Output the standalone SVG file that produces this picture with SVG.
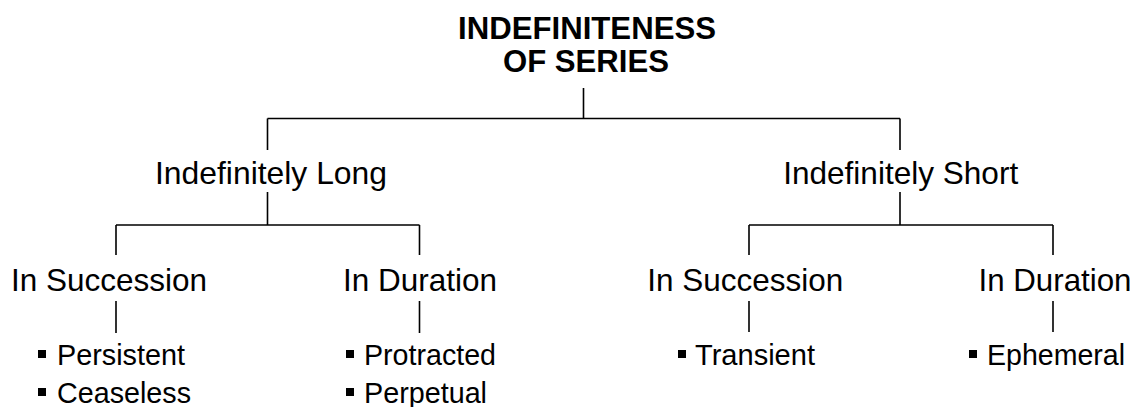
<svg xmlns="http://www.w3.org/2000/svg" width="1134" height="407" viewBox="0 0 1134 407">
<style>
.t{font-family:"Liberation Sans",Arial,sans-serif;fill:#000}
.title{font-weight:bold;font-size:31px;text-anchor:middle}
.lab{font-size:31.5px;text-anchor:middle}
.it{font-size:28.7px}
.c{stroke:#000;stroke-width:1.6;fill:none}
.b{fill:#000}
</style>
<rect width="1134" height="407" fill="#fff"/>
<g id="connectors" class="c">
<path d="M583.5 88V118.5M267.5 118.5H900M267.5 118.5V150M900 118.5V150"/>
<path d="M267.5 192V225M116 225H419.5M116 225V255M419.5 225V255"/>
<path d="M900 192V225M749 225H1053M749 225V255M1053 225V255"/>
<path d="M116 301V333M419.5 301V333M749 301V332M1053 301V332"/>
</g>
<g id="root">
<text class="t title" x="587" y="38.5" textLength="258" lengthAdjust="spacingAndGlyphs">INDEFINITENESS</text>
<text class="t title" x="586" y="72" textLength="166" lengthAdjust="spacingAndGlyphs">OF SERIES</text>
</g>
<g id="long"><text class="t lab" x="271" y="184" textLength="232" lengthAdjust="spacingAndGlyphs">Indefinitely Long</text></g>
<g id="short"><text class="t lab" x="900.7" y="184" textLength="235" lengthAdjust="spacingAndGlyphs">Indefinitely Short</text></g>
<g id="long-succession"><text class="t lab" x="109" y="291" textLength="196" lengthAdjust="spacingAndGlyphs">In Succession</text></g>
<g id="long-duration"><text class="t lab" x="420" y="291" textLength="154" lengthAdjust="spacingAndGlyphs">In Duration</text></g>
<g id="short-succession"><text class="t lab" x="745.3" y="291" textLength="196" lengthAdjust="spacingAndGlyphs">In Succession</text></g>
<g id="short-duration"><text class="t lab" x="1055" y="291" textLength="153" lengthAdjust="spacingAndGlyphs">In Duration</text></g>
<g id="long-succession-items">
<rect class="b" x="38" y="350" width="8" height="8"/>
<text class="t it" x="57" y="365" textLength="128" lengthAdjust="spacingAndGlyphs">Persistent</text>
<rect class="b" x="38" y="388" width="8" height="8"/>
<text class="t it" x="57" y="403" textLength="134" lengthAdjust="spacingAndGlyphs">Ceaseless</text>
</g>
<g id="long-duration-items">
<rect class="b" x="346" y="350" width="8" height="8"/>
<text class="t it" x="364" y="365" textLength="132" lengthAdjust="spacingAndGlyphs">Protracted</text>
<rect class="b" x="346" y="388" width="8" height="8"/>
<text class="t it" x="364" y="403" textLength="123" lengthAdjust="spacingAndGlyphs">Perpetual</text>
</g>
<g id="short-succession-items">
<rect class="b" x="678" y="350" width="8" height="8"/>
<text class="t it" x="695" y="365" textLength="120" lengthAdjust="spacingAndGlyphs">Transient</text>
</g>
<g id="short-duration-items">
<rect class="b" x="969" y="350" width="8" height="8"/>
<text class="t it" x="987" y="365" textLength="138" lengthAdjust="spacingAndGlyphs">Ephemeral</text>
</g>
</svg>
